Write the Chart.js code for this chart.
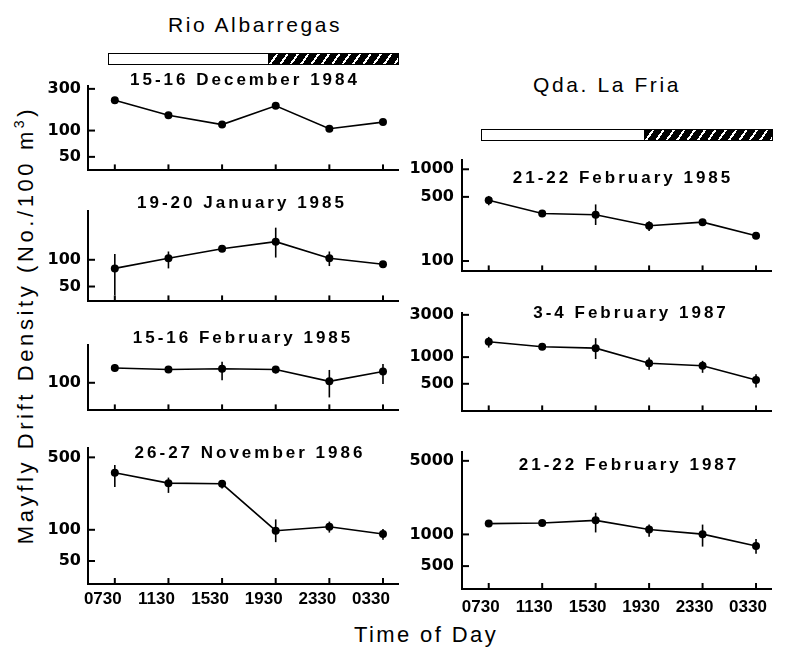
<!DOCTYPE html>
<html>
<head>
<meta charset="utf-8">
<script src="https://cdn.jsdelivr.net/npm/chart.js@4.4.1/dist/chart.umd.min.js"></script>
<style>
body { margin: 0; background: #fff; }
#fig { position: relative; width: 789px; height: 651px; overflow: hidden; font-family: "Liberation Sans", Arial, sans-serif; color: #000; }
#fig canvas { position: absolute; }
.lbl { position: absolute; white-space: nowrap; transform: translate(-50%, -50%); }
.site { font-size: 21px; letter-spacing: 2.6px; }
.date { font-size: 17px; font-weight: bold; letter-spacing: 3px; }
.axt { font-size: 22px; letter-spacing: 2.4px; }
.ytitle { transform: translate(-50%, -50%) rotate(-90deg); letter-spacing: 3.6px; }
.ytitle sup { font-size: 14px; vertical-align: 9px; line-height: 0; }
.bar { position: absolute; border: 1.5px solid #000; box-sizing: border-box; background: #fff; }
.bar .night { position: absolute; top: 0; bottom: 0; right: 0;
  background: repeating-linear-gradient(125deg, #000 0 6.5px, #fff 6.5px 8.5px); }
</style>
</head>
<body>
<div id="fig">
  <div class="lbl site" style="left:255px; top:25px;">Rio Albarregas</div>
  <div class="lbl site" style="left:607px; top:85px;">Qda. La Fria</div>
  <div class="bar" style="left:108px; top:53px; width:291px; height:12px;"><div class="night" style="width:130px;"></div></div>
  <div class="bar" style="left:481px; top:129px; width:292px; height:12px;"><div class="night" style="width:128px;"></div></div>
  <div class="lbl axt ytitle" style="left:26px; top:325px;">Mayfly Drift Density (No./100 m<sup>3</sup>)</div>
  <div class="lbl axt" style="left:426px; top:635px;">Time of Day</div>
</div>

<script>
// horas de amostragem
const horas = ["0730", "1130", "1530", "1930", "2330", "0330"];

// Rio Albarregas
const dez84Media = [222, 150, 117, 192, 105, 125];
const jan85Media = [80, 104, 133, 160, 104, 89];
const jan85Min = [40, 80, null, 106, 85, null];
const jan85Max = [116, 124, null, 230, 124, null];
const fev85Media = [150, 144, 147, 144, 104, 136];
const fev85Min = [136, null, 107, 129, 67, 97];
const fev85Max = [167, null, 178, 158, 142, 167];
const nov86Media = [355, 282, 278, 98, 107, 91];
const nov86Min = [259, 227, 250, 76, 94, 80];
const nov86Max = [422, 319, 294, 126, 120, 102];

// Qda. La Fria
const friaFev85Media = [459, 329, 319, 242, 265, 188];
const friaFev85Min = [405, null, 247, 212, null, null];
const friaFev85Max = [512, null, 414, 271, null, null];
const friaFev87aMedia = [1491, 1309, 1262, 853, 800, 553];
const friaFev87aMin = [1282, null, 951, 718, 665, 454];
const friaFev87aMax = [1692, null, 1635, 988, 908, 640];
const friaFev87bMedia = [1267, 1284, 1360, 1113, 1006, 777];
const friaFev87bMin = [null, null, 1044, 950, 766, 655];
const friaFev87bMax = [null, null, 1606, 1240, 1240, 904];

const paineis = [
  { titulo: "15-16 December 1984", tx: 245, ty: 80, area: [88, 83, 398, 185], yMin: 35, yMax: 327, yTicks: [50, 100, 300], media: dez84Media, min: [], max: [] },
  { titulo: "19-20 January 1985", tx: 242, ty: 203, area: [88, 208, 398, 316], yMin: 34, yMax: 358, yTicks: [50, 100], media: jan85Media, min: jan85Min, max: jan85Max },
  { titulo: "15-16 February 1985", tx: 243, ty: 338, area: [88, 342, 398, 425], yMin: 47, yMax: 284, yTicks: [100], media: fev85Media, min: fev85Min, max: fev85Max },
  { titulo: "26-27 November 1986", tx: 250, ty: 453, area: [88, 445, 398, 584], yMin: 30, yMax: 621, yTicks: [50, 100, 500], media: nov86Media, min: nov86Min, max: nov86Max, eixoX: true, offset: -12, pad: 5 },
  { titulo: "21-22 February 1985", tx: 623, ty: 178, area: [462, 156, 771, 287], yMin: 77, yMax: 1275, yTicks: [100, 500, 1000], media: friaFev85Media, min: friaFev85Min, max: friaFev85Max },
  { titulo: "3-4 February 1987", tx: 631, ty: 313, area: [462, 309, 771, 427], yMin: 244, yMax: 3180, yTicks: [500, 1000, 3000], media: friaFev87aMedia, min: friaFev87aMin, max: friaFev87aMax },
  { titulo: "21-22 February 1987", tx: 629, ty: 465, area: [462, 448, 771, 589], yMin: 303, yMax: 6120, yTicks: [500, 1000, 5000], media: friaFev87bMedia, min: friaFev87bMin, max: friaFev87bMax, eixoX: true, offset: -8, pad: 8 }
];

const LARG_Y = 60, PAD_TOPO = 14, PAD_DIR = 16;
const fig = document.getElementById("fig");

// barras de erro e marcas dos eixos (para dentro)
function criarMarcas(p) {
  return {
    id: "marcas",
    afterDatasetsDraw(chart) {
      const ctx = chart.ctx;
      const x = chart.scales.x, y = chart.scales.y;
      ctx.save();
      ctx.strokeStyle = "#000";
      ctx.lineWidth = 1.6;
      p.media.forEach((v, i) => {
        if (p.min[i] == null || p.max[i] == null) return;
        const px = x.getPixelForValue(i);
        ctx.beginPath();
        ctx.moveTo(px, y.getPixelForValue(p.min[i]));
        ctx.lineTo(px, y.getPixelForValue(p.max[i]));
        ctx.stroke();
      });
      ctx.restore();
    },
    afterDraw(chart) {
      const ctx = chart.ctx;
      const x = chart.scales.x, y = chart.scales.y;
      const a = chart.chartArea;
      ctx.save();
      ctx.strokeStyle = "#000";
      ctx.lineWidth = 2;
      horas.forEach((h, i) => {
        const px = x.getPixelForValue(i);
        ctx.beginPath();
        ctx.moveTo(px, a.bottom);
        ctx.lineTo(px, a.bottom - 6);
        ctx.stroke();
      });
      p.yTicks.forEach(v => {
        const py = y.getPixelForValue(v);
        ctx.beginPath();
        ctx.moveTo(a.left, py);
        ctx.lineTo(a.left + 7, py);
        ctx.stroke();
      });
      ctx.restore();
    }
  };
}

paineis.forEach(p => {
  const [l, t, r, b] = p.area;
  const altX = p.eixoX ? 34 : 2;
  const cv = document.createElement("canvas");
  const w = r - l + LARG_Y + PAD_DIR;
  const h = b - t + PAD_TOPO + altX;
  cv.width = w; cv.height = h;
  cv.style.left = (l - LARG_Y) + "px";
  cv.style.top = (t - PAD_TOPO) + "px";
  cv.style.width = w + "px";
  cv.style.height = h + "px";
  fig.appendChild(cv);

  const tit = document.createElement("div");
  tit.className = "lbl date";
  tit.style.left = p.tx + "px";
  tit.style.top = p.ty + "px";
  tit.textContent = p.titulo;
  fig.appendChild(tit);

  new Chart(cv.getContext("2d"), {
    type: "line",
    data: {
      datasets: [{
        data: p.media.map((v, i) => ({ x: i, y: v })),
        borderColor: "#000",
        borderWidth: 1.6,
        backgroundColor: "#000",
        pointBackgroundColor: "#000",
        pointBorderColor: "#000",
        pointRadius: 4,
        pointBorderWidth: 0,
        tension: 0
      }]
    },
    options: {
      responsive: false,
      animation: false,
      events: [],
      layout: { padding: { top: PAD_TOPO, right: PAD_DIR, left: 0, bottom: 0 } },
      plugins: { legend: { display: false }, tooltip: { enabled: false } },
      scales: {
        x: {
          type: "linear", min: -0.5, max: 5.28,
          grid: { display: false, drawTicks: false },
          border: { display: true, width: 2, color: "#000" },
          ticks: {
            display: !!p.eixoX, padding: p.pad || 5, labelOffset: p.offset || 0, maxRotation: 0,
            color: "#000", font: { family: "'Liberation Sans', Arial, sans-serif", size: 17, weight: "bold" },
            callback: v => horas[v]
          },
          afterBuildTicks: s => { s.ticks = horas.map((h, i) => ({ value: i })); },
          afterFit: s => { s.height = altX; }
        },
        y: {
          type: "logarithmic", min: p.yMin, max: p.yMax,
          grid: { display: false, drawTicks: false },
          border: { display: true, width: 2, color: "#000" },
          ticks: {
            padding: l > 400 ? 8 : 7,
            color: "#000", font: { family: "'DejaVu Sans', sans-serif", size: 16, weight: "bold" },
            callback: v => String(v)
          },
          afterBuildTicks: s => { s.ticks = p.yTicks.map(v => ({ value: v })); },
          afterFit: s => { s.width = LARG_Y; }
        }
      }
    },
    plugins: [criarMarcas(p)]
  });
});
</script>
</body>
</html>
